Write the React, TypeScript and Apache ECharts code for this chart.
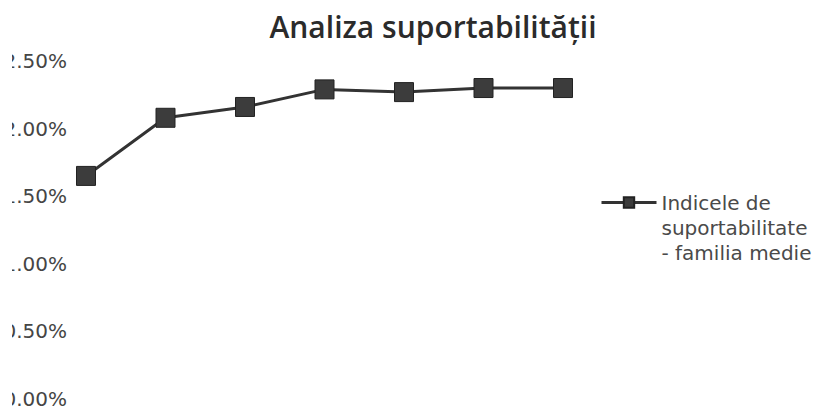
import React, { useEffect, useRef } from "react";
import * as echarts from "echarts";

const categories = ["1", "2", "3", "4", "5", "6", "7"];
const seriesName = "Indicele de\nsuportabilitate\n- familia medie";
const values = [1.65, 2.08, 2.16, 2.29, 2.27, 2.3, 2.3];
const yTicks = [0, 0.5, 1, 1.5, 2, 2.5];
const titleText = "Analiza suportabilității";

export default function App() {
  const ref = useRef<HTMLDivElement>(null);
  useEffect(() => {
    if (!ref.current) return;
    const chart = echarts.init(ref.current, null, { renderer: "svg" });
    chart.setOption({
      animation: false,
      backgroundColor: "#ffffff",
      title: {
        text: titleText,
        left: 428,
        top: 6,
        textAlign: "center",
        textStyle: {
          fontFamily: "Open Sans",
          fontWeight: 600,
          fontSize: 30,
          color: "#2b2b2b",
        },
      },
      grid: { left: 86, right: 253, top: 61, bottom: 5, containLabel: false },
      xAxis: {
        type: "category",
        data: categories,
        boundaryGap: false,
        axisLine: { show: false },
        axisTick: { show: false },
        axisLabel: { show: false },
        splitLine: { show: false },
      },
      yAxis: {
        type: "value",
        min: yTicks[0],
        max: yTicks[yTicks.length - 1],
        interval: 0.5,
        axisLine: { show: false },
        axisTick: { show: false },
        splitLine: { show: false },
        axisLabel: {
          margin: 19,
          fontFamily: "DejaVu Sans",
          fontSize: 20,
          color: "#454545",
          formatter: (v: number) => v.toFixed(2) + "%",
        },
      },
      legend: {
        left: 600,
        top: 140,
        padding: 0,
        orient: "vertical",
        itemWidth: 55,
        itemHeight: 13,
        data: [seriesName],
        formatter: (name: string) => "\n\n" + name,
        lineStyle: { width: 3 },
        textStyle: {
          fontFamily: "DejaVu Sans",
          fontSize: 20,
          lineHeight: 25,
          color: "#4a4a4a",
        },
      },
      graphic: [
        {
          type: "rect",
          z: 100,
          shape: { x: 0, y: 0, width: 12, height: 409 },
          style: { fill: "#ffffff" },
        },
      ],
      series: [
        {
          name: seriesName,
          type: "line",
          data: values,
          symbol: "rect",
          symbolSize: 19,
          lineStyle: { color: "#333333", width: 3 },
          itemStyle: { color: "#3c3c3c", borderColor: "#222222", borderWidth: 1 },
        },
      ],
    });
    return () => chart.dispose();
  }, []);
  return (
    <div
      ref={ref}
      style={{ position: "absolute", left: 0, top: 0, width: 816, height: 409 }}
    />
  );
}
